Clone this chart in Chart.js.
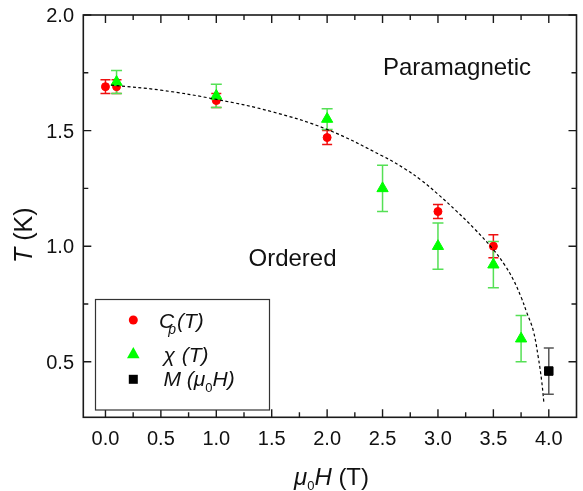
<!DOCTYPE html>
<html><head><meta charset="utf-8">
<script src="https://cdn.jsdelivr.net/npm/chart.js@4.4.1/dist/chart.umd.min.js"></script>
<style>html,body{margin:0;padding:0;overflow:hidden;background:#fff}</style>
</head><body>
<canvas id="c" width="584" height="491" style="display:block;width:584px;height:491px"></canvas>
<script>
// ---- data ----
const cpH   = [0, 0.1, 1.0, 2.0, 3.0, 3.5];
const cpT   = [1.69, 1.69, 1.63, 1.47, 1.15, 1.00];
const cpErr = [0.03, 0.03, 0.03, 0.03, 0.03, 0.05];

const chiH   = [0.1, 1.0, 2.0, 2.5, 3.0, 3.5, 3.75];
const chiT   = [1.71, 1.65, 1.55, 1.25, 1.00, 0.92, 0.60];
const chiErr = [0.05, 0.05, 0.045, 0.1, 0.1, 0.1, 0.1];

const mH   = [4.0];
const mT   = [0.46];
const mErr = [0.1];

const fitH = [0.05, 0.5, 1.0, 1.5, 2.0, 2.5, 2.7, 2.85, 3.0, 3.16, 3.33, 3.5, 3.6, 3.68, 3.75, 3.8, 3.86, 3.905, 3.935, 3.955];
const fitT = [1.697, 1.675, 1.635, 1.582, 1.505, 1.39, 1.335, 1.285, 1.225, 1.155, 1.075, 0.985, 0.92, 0.855, 0.78, 0.715, 0.635, 0.52, 0.42, 0.327];

const xTickVals   = [0, 0.5, 1.0, 1.5, 2.0, 2.5, 3.0, 3.5, 4.0];
const xTickLabels = ['0.0','0.5','1.0','1.5','2.0','2.5','3.0','3.5','4.0'];
const xMinorVals  = [0.25, 0.75, 1.25, 1.75, 2.25, 2.75, 3.25, 3.75];
const yTickVals   = [0.5, 1.0, 1.5, 2.0];
const yTickLabels = ['0.5','1.0','1.5','2.0'];
const yMinorVals  = [0.75, 1.25, 1.75];

const toXY = (xs, ys) => xs.map((x, i) => ({x: x, y: ys[i]}));
const FF = '"Liberation Sans", Arial, Helvetica, sans-serif';

function errorBars(ctx, sx, sy, H, T, E, color, half) {
  ctx.save();
  ctx.strokeStyle = color; ctx.lineWidth = 1.5;
  H.forEach((h, i) => {
    const px = sx.getPixelForValue(h);
    const t = sy.getPixelForValue(T[i] + E[i]);
    const b = sy.getPixelForValue(T[i] - E[i]);
    ctx.beginPath();
    ctx.moveTo(px, t); ctx.lineTo(px, b);
    ctx.moveTo(px - half, t); ctx.lineTo(px + half, t);
    ctx.moveTo(px - half, b); ctx.lineTo(px + half, b);
    ctx.stroke();
  });
  ctx.restore();
}

function rich(ctx, x, y, segs) {
  segs.forEach(s => {
    ctx.font = s.font;
    const xx = (s.x !== undefined) ? s.x : x;
    ctx.fillText(s.t, xx, y + (s.dy || 0));
    x = xx + ctx.measureText(s.t).width + (s.gap || 0);
  });
}

const decor = {
  id: 'decor',
  beforeDatasetsDraw(chart) {
    const ctx = chart.ctx, sx = chart.scales.x, sy = chart.scales.y;
    errorBars(ctx, sx, sy, cpH, cpT, cpErr, '#ee1111', 5);
    errorBars(ctx, sx, sy, chiH, chiT, chiErr, '#55e055', 5.5);
    errorBars(ctx, sx, sy, mH, mT, mErr, '#555555', 5);
  },
  afterDraw(chart) {
    const ctx = chart.ctx, sx = chart.scales.x, sy = chart.scales.y, a = chart.chartArea;
    ctx.save();
    // frame
    ctx.strokeStyle = '#1a1a1a'; ctx.lineWidth = 1.6;
    ctx.strokeRect(a.left, a.top, a.right - a.left, a.bottom - a.top);
    // ticks
    ctx.lineWidth = 1.4;
    ctx.beginPath();
    const xt = (v, len) => { const p = sx.getPixelForValue(v);
      ctx.moveTo(p, a.bottom); ctx.lineTo(p, a.bottom - len);
      ctx.moveTo(p, a.top); ctx.lineTo(p, a.top + len); };
    const yt = (v, len) => { const p = sy.getPixelForValue(v);
      ctx.moveTo(a.left, p); ctx.lineTo(a.left + len, p);
      ctx.moveTo(a.right, p); ctx.lineTo(a.right - len, p); };
    xTickVals.forEach(v => xt(v, 8)); xMinorVals.forEach(v => xt(v, 5));
    yTickVals.forEach(v => yt(v, 8)); yMinorVals.forEach(v => yt(v, 5));
    ctx.stroke();
    // tick labels
    ctx.fillStyle = '#111';
    ctx.font = '20px ' + FF;
    ctx.textBaseline = 'alphabetic';
    ctx.textAlign = 'center';
    xTickVals.forEach((v, i) => ctx.fillText(xTickLabels[i], sx.getPixelForValue(v), 444.5));
    ctx.textAlign = 'right';
    yTickVals.forEach((v, i) => ctx.fillText(yTickLabels[i], 74, sy.getPixelForValue(v) + 7));
    ctx.textAlign = 'left';
    // x title
    rich(ctx, 294, 485, [
      {t: '\u03BC', font: 'italic 24px ' + FF},
      {t: '0', font: '13px ' + FF, dy: 5},
      {t: 'H', font: 'italic 24px ' + FF},
      {t: ' (T)', font: '24px ' + FF}
    ]);
    // y title
    ctx.save();
    ctx.translate(31.5, 263);
    ctx.rotate(-Math.PI / 2);
    rich(ctx, 0, 0, [
      {t: 'T', font: 'italic 25px ' + FF},
      {t: ' (K)', font: '25px ' + FF}
    ]);
    ctx.restore();
    // annotations
    ctx.font = '24px ' + FF;
    ctx.fillText('Paramagnetic', 383, 75);
    ctx.fillText('Ordered', 248.5, 266);
    // legend box
    ctx.fillStyle = '#fff';
    ctx.fillRect(95.5, 299.5, 174, 110.5);
    ctx.strokeStyle = '#333'; ctx.lineWidth = 1.2;
    ctx.strokeRect(95.5, 299.5, 174, 110.5);
    // legend symbols
    ctx.fillStyle = '#ff0000';
    ctx.beginPath(); ctx.arc(133.3, 320, 4.5, 0, Math.PI * 2); ctx.fill();
    ctx.fillStyle = '#00ff00';
    ctx.beginPath(); ctx.moveTo(133.3, 347); ctx.lineTo(139.6, 358.3); ctx.lineTo(127, 358.3); ctx.closePath(); ctx.fill();
    ctx.fillStyle = '#000';
    ctx.fillRect(128.8, 374.8, 9, 9);
    // legend texts
    ctx.fillStyle = '#111';
    rich(ctx, 159, 328, [
      {t: 'C', font: 'italic 21px ' + FF, gap: -6},
      {t: 'p', font: 'italic 14px ' + FF, dy: 6, gap: 1},
      {t: '(T)', font: 'italic 21px ' + FF}
    ]);
    rich(ctx, 163.5, 362, [
      {t: '\u03C7 ', font: 'italic 21px ' + FF, gap: 1},
      {t: '(T)', font: 'italic 21px ' + FF}
    ]);
    rich(ctx, 163.5, 386, [
      {t: 'M (', font: 'italic 21px ' + FF},
      {t: '\u03BC', font: 'italic 21px ' + FF, gap: 0},
      {t: '0', font: '13px ' + FF, dy: 6, gap: 0},
      {t: 'H)', font: 'italic 21px ' + FF}
    ]);
    ctx.restore();
  }
};

new Chart(document.getElementById('c'), {
  type: 'scatter',
  data: {
    datasets: [
      { type: 'line', label: 'fit', data: toXY(fitH, fitT), borderColor: '#000', borderWidth: 1.2,
        borderDash: [3, 2.5], pointRadius: 0, fill: false, tension: 0.4, order: 0 },
      { label: 'chi', data: toXY(chiH, chiT), pointStyle: 'triangle', pointRadius: 6.5,
        backgroundColor: '#00ff00', borderColor: '#00ff00', borderWidth: 1, order: 1 },
      { label: 'Cp', data: toXY(cpH, cpT), pointStyle: 'circle', pointRadius: 4,
        backgroundColor: '#ff0000', borderColor: '#ff0000', borderWidth: 1, order: 2 },
      { label: 'M', data: toXY(mH, mT), pointStyle: 'rect', pointRadius: 6,
        backgroundColor: '#000', borderColor: '#000', borderWidth: 1, order: 3 }
    ]
  },
  options: {
    responsive: false,
    animation: false,
    events: [],
    layout: { padding: { left: 0, right: 0, top: 15, bottom: 0 } },
    plugins: { legend: { display: false }, tooltip: { enabled: false } },
    scales: {
      x: { type: 'linear', min: -0.2, max: 4.25,
        grid: { display: false }, border: { display: false },
        ticks: { display: false },
        afterFit: s => { s.height = 73.7; } },
      y: { type: 'linear', min: 0.26, max: 2.0,
        grid: { display: false }, border: { display: false },
        ticks: { display: false },
        afterFit: s => { s.width = 83.3; } }
    }
  },
  plugins: [decor]
});
</script>
</body></html>
